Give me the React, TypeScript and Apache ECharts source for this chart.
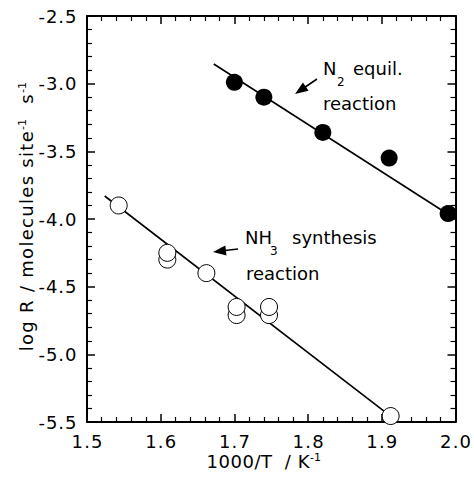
import React, { useEffect, useRef } from "react";
import * as echarts from "echarts";

// N2 equilibration reaction (filled circles)
const n2X = [1.7, 1.74, 1.82, 1.91, 1.99];
const n2Y = [-2.99, -3.1, -3.36, -3.55, -3.96];
// NH3 synthesis reaction (open circles); lower of each pair first
const nh3X = [1.543, 1.609, 1.609, 1.662, 1.703, 1.703, 1.747, 1.747, 1.912];
const nh3Y = [-3.9, -4.3, -4.25, -4.4, -4.71, -4.65, -4.71, -4.65, -5.456];
// fitted lines
const n2FitX = [1.672, 2.0];
const n2FitY = [-2.855, -4.0];
const nh3FitX = [1.524, 1.903];
const nh3FitY = [-3.83, -5.42];
// axes
const xMin = 1.5, xMax = 2.0, xStep = 0.1;
const yMin = -5.5, yMax = -2.5, yStep = 0.5;
// titles: [text, isSuperscript]
const xTitleParts: [string, boolean][] = [["1000/T  / K", false], ["-1", true]];
const yTitleParts: [string, boolean][] = [["log R / molecules site", false], ["-1", true], ["  s", false], ["-1", true]];

const FONT = "DejaVu Sans";

function arrow(tail: number[], tip: number[]) {
  const dx = tip[0] - tail[0], dy = tip[1] - tail[1];
  const len = Math.hypot(dx, dy);
  const ux = dx / len, uy = dy / len;
  const hl = 13, hw = 5;
  const bx = tip[0] - ux * hl, by = tip[1] - uy * hl;
  const px = -uy * hw, py = ux * hw;
  return [
    { type: "line", shape: { x1: tail[0], y1: tail[1], x2: bx + ux, y2: by + uy }, style: { stroke: "#000", lineWidth: 1.6 } },
    { type: "polygon", shape: { points: [[tip[0], tip[1]], [bx + px, by + py], [bx - px, by - py]] }, style: { fill: "#000" } },
  ];
}

function txt(x: number, y: number, text: string, size = 18, align = "left") {
  return { type: "text", x, y, style: { text, font: `${size}px "${FONT}"`, fill: "#000", align, verticalAlign: "middle" } };
}

function spacedTitle(parts: [string, boolean][], pad: number) {
  let s = "";
  for (const [t, sup] of parts) {
    if (sup) { s += `{s|${t}}`; continue; }
    for (const ch of t) s += ch === " " ? "{sp| }" : `{c|${ch}}`;
  }
  const rich = {
    c: { fontSize: 18, fontFamily: FONT, padding: [0, pad, 0, 0] },
    sp: { fontSize: 18, fontFamily: FONT, width: 5.7 + pad },
    s: { fontSize: 11, fontFamily: FONT, verticalAlign: "top", lineHeight: 12, padding: [0, pad, 0, 0] },
  };
  return { text: s, rich };
}

function spacedLabel(v: number) {
  return v.toFixed(1).split("").map((ch) => `{c|${ch}}`).join("");
}

export default function App() {
  const ref = useRef<HTMLDivElement>(null);
  useEffect(() => {
    const chart = echarts.init(ref.current!, undefined, { renderer: "svg" });
    const axisCommon = {
      axisLine: { show: true, lineStyle: { color: "#000", width: 2 } },
      axisTick: { show: true, inside: true, length: 8, lineStyle: { color: "#000", width: 1.5 } },
      minorTick: { show: true, splitNumber: 5, length: 5, lineStyle: { color: "#000", width: 1.2 } },
      splitLine: { show: false },
      minorSplitLine: { show: false },
    };
    const label = { fontFamily: FONT, fontSize: 18, color: "#000" };
    const xt = spacedTitle(xTitleParts, 0.5);
    const yt = spacedTitle(yTitleParts, 1.3);
    chart.setOption({
      animation: false,
      grid: { left: 87, right: 16, top: 16, bottom: 58 },
      xAxis: [
        { ...axisCommon, type: "value", position: "bottom", min: xMin, max: xMax, interval: xStep,
          axisLabel: { ...label, margin: 10, formatter: spacedLabel,
            rich: { c: { fontFamily: FONT, fontSize: 18, color: "#000", padding: [0, 0.6, 0, 0.6] } } } },
        { ...axisCommon, type: "value", position: "top", min: xMin, max: xMax, interval: xStep, axisLabel: { show: false } },
      ],
      yAxis: [
        { ...axisCommon, type: "value", position: "left", min: yMin, max: yMax, interval: yStep,
          axisLabel: { ...label, margin: 10, formatter: spacedLabel,
            rich: { c: { fontFamily: FONT, fontSize: 18, color: "#000", padding: [0, 0.5, 0, 0.5] } } } },
        { ...axisCommon, type: "value", position: "right", min: yMin, max: yMax, interval: yStep, axisLabel: { show: false } },
      ],
      series: [
        { type: "line", data: n2FitX.map((x, i) => [x, n2FitY[i]]), symbol: "none", lineStyle: { color: "#000", width: 1.6 }, z: 2 },
        { type: "line", data: nh3FitX.map((x, i) => [x, nh3FitY[i]]), symbol: "none", lineStyle: { color: "#000", width: 1.6 }, z: 2 },
        { type: "scatter", data: n2X.map((x, i) => [x, n2Y[i]]), symbol: "circle", symbolSize: 17, itemStyle: { color: "#000", opacity: 1 }, z: 3 },
        { type: "scatter", data: nh3X.map((x, i) => [x, nh3Y[i]]), symbol: "circle", symbolSize: 17, itemStyle: { color: "#fff", borderColor: "#000", borderWidth: 1, opacity: 1 }, z: 3 },
      ],
      graphic: [
        ...arrow([317, 79], [295, 94]),
        ...arrow([238, 249], [213, 252]),
        txt(323, 68.5, "N"),
        txt(337, 81.5, "2", 12),
        txt(353, 68.5, "equil."),
        txt(323, 103.5, "reaction"),
        txt(245, 237.5, "NH"),
        txt(270, 250.5, "3", 12),
        txt(292, 237.5, "synthesis"),
        txt(246, 273.5, "reaction"),
        {
          type: "text", x: 264, y: 461,
          style: { text: xt.text, rich: xt.rich, fill: "#000", align: "center", verticalAlign: "middle" },
        },
        {
          type: "text", x: 26, y: 216, rotation: Math.PI / 2,
          style: { text: yt.text, rich: yt.rich, fill: "#000", align: "center", verticalAlign: "middle" },
        },
      ],
    });
    return () => chart.dispose();
  }, []);
  return <div ref={ref} style={{ position: "fixed", left: 0, top: 0, width: 474, height: 480, background: "#fff" }} />;
}
